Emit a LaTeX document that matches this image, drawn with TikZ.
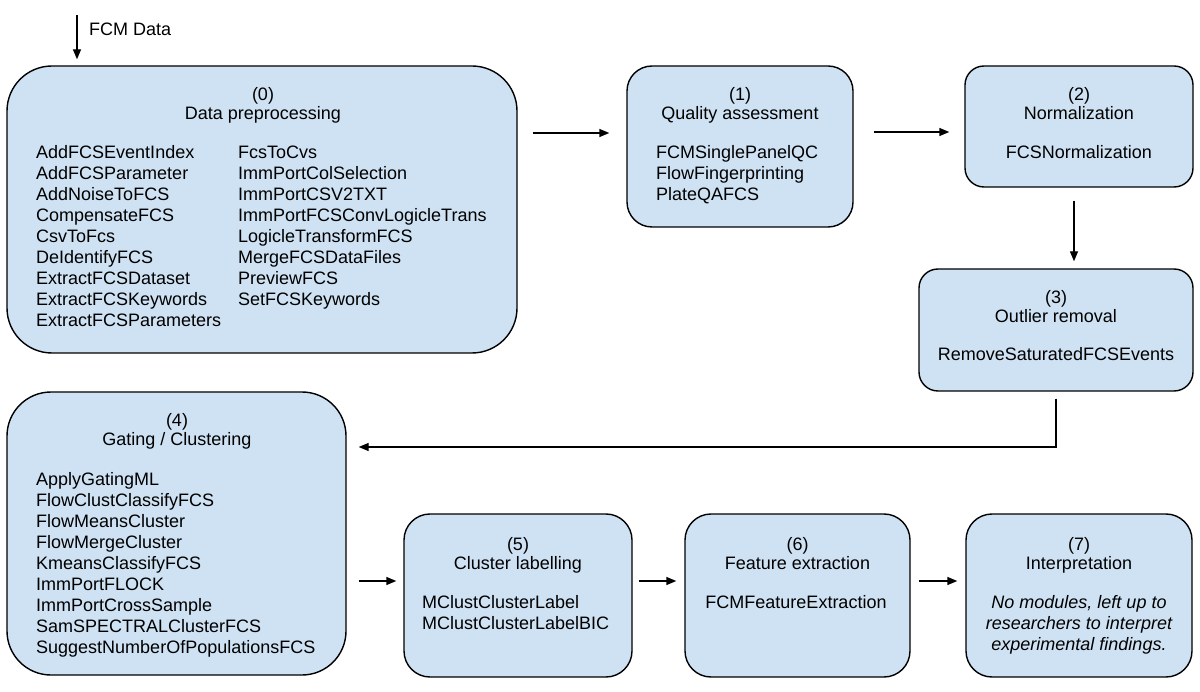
\documentclass[tikz,border=0pt]{standalone}
\usepackage{fontspec}
\setmainfont{Liberation Sans}
\usetikzlibrary{arrows.meta}
\definecolor{boxblue}{HTML}{CFE2F3}
\begin{document}
\begin{tikzpicture}[x=1pt,y=-1pt,
  box/.style={draw=black, fill=boxblue, line width=1.4pt, rounded corners=#1, inner sep=0pt},
  hdr/.style={anchor=base, align=center, font=\fontsize{18}{19}\selectfont, inner sep=0pt},
  lst/.style={anchor=base west, align=left, font=\fontsize{18}{21}\selectfont, inner sep=0pt},
  ctr/.style={anchor=base, align=center, font=\fontsize{18}{21}\selectfont, inner sep=0pt},
  arr/.style={line width=1.4pt, -{Triangle[length=10pt,width=8pt]}}]
\useasboundingbox (0,0) rectangle (1200,692);

% boxes
\node[box=45pt, minimum width=510pt, minimum height=287pt] (b0) at (262,209.5) {};
\node[box=25pt, minimum width=226pt, minimum height=161pt] (b1) at (740,146.5) {};
\node[box=19pt, minimum width=228pt, minimum height=121pt] (b2) at (1079,126.5) {};
\node[box=19pt, minimum width=274pt, minimum height=122pt] (b3) at (1056,330) {};
\node[box=44pt, minimum width=339pt, minimum height=283pt] (b4) at (176.5,533.5) {};
\node[box=26pt, minimum width=228pt, minimum height=163pt] (b5) at (518,595.5) {};
\node[box=26pt, minimum width=225pt, minimum height=163pt] (b6) at (797.5,595.5) {};
\node[box=26pt, minimum width=226pt, minimum height=163pt] (b7) at (1079,595.5) {};

% texts (anchor base = baseline of the last line)
\node[hdr] (h0) at (263,120) {(0)\\Data preprocessing};
\node[lst] (l0a) at (36,327) {AddFCSEventIndex\\AddFCSParameter\\AddNoiseToFCS\\CompensateFCS\\CsvToFcs\\DeIdentifyFCS\\ExtractFCSDataset\\ExtractFCSKeywords\\ExtractFCSParameters};
\node[lst] (l0b) at (238,306) {FcsToCvs\\ImmPortColSelection\\ImmPortCSV2TXT\\ImmPortFCSConvLogicleTrans\\LogicleTransformFCS\\MergeFCSDataFiles\\PreviewFCS\\SetFCSKeywords};

\node[hdr] (h1) at (740,120) {(1)\\Quality assessment};
\node[lst] (l1) at (656,201) {FCMSinglePanelQC\\FlowFingerprinting\\PlateQAFCS};

\node[hdr] (h2) at (1079,120) {(2)\\Normalization};
\node[ctr] (l2) at (1079,159) {FCSNormalization};

\node[hdr] (h3) at (1056,323) {(3)\\Outlier removal};
\node[ctr] (l3) at (1056,361) {RemoveSaturatedFCSEvents};

\node[hdr] (h4) at (177,446) {(4)\\Gating / Clustering};
\node[lst] (l4) at (36,653) {ApplyGatingML\\FlowClustClassifyFCS\\FlowMeansCluster\\FlowMergeCluster\\KmeansClassifyFCS\\ImmPortFLOCK\\ImmPortCrossSample\\SamSPECTRALClusterFCS\\SuggestNumberOfPopulationsFCS};

\node[hdr] (h5) at (518,569) {(5)\\Cluster labelling};
\node[lst] (l5) at (422,629) {MClustClusterLabel\\MClustClusterLabelBIC};

\node[hdr] (h6) at (797.5,569) {(6)\\Feature extraction};
\node[ctr] (l6) at (796,608) {FCMFeatureExtraction};

\node[hdr] (h7) at (1079,569) {(7)\\Interpretation};
\node[ctr, font=\fontsize{18}{21}\selectfont\itshape] (l7) at (1079,650) {No modules, left up to\\researchers to interpret\\experimental findings.};

% input arrow
\coordinate (fcm) at (77,15);
\draw[arr, shorten >=6pt] (fcm) -- (fcm |- b0.north);
\node[anchor=base west, inner sep=0pt, font=\fontsize{18}{21}\selectfont] (fcmlab) at (89,36) {FCM Data};

% connectors
\draw[arr, shorten <=15pt, shorten >=17pt] (b0.east |- 0,133) -- (b1.west |- 0,133);
\draw[arr, shorten <=20pt, shorten >=15pt] (b1.east |- 0,132) -- (b2.west |- 0,132);
\draw[arr, shorten <=13pt, shorten >=7pt] ([xshift=-5pt]b2.south) -- ([xshift=-5pt]b2.south |- b3.north);
\draw[arr, shorten <=7pt, shorten >=12pt] (b3.south) |- (b4.east |- 0,447);
\draw[arr, shorten <=12pt, shorten >=7pt] (b4.east |- 0,581) -- (b5.west |- 0,581);
\draw[arr, shorten <=6pt, shorten >=8pt] (b5.east |- 0,581) -- (b6.west |- 0,581);
\draw[arr, shorten <=8pt, shorten >=8pt] (b6.east |- 0,581) -- (b7.west |- 0,581);
\end{tikzpicture}
\end{document}
